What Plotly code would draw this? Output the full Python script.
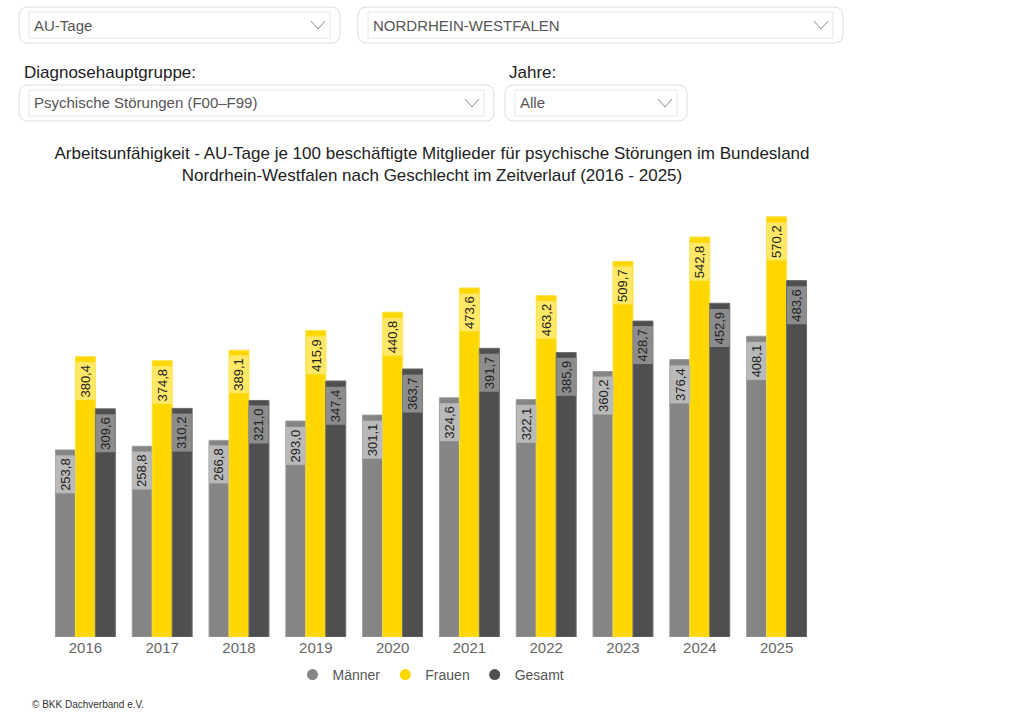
import plotly.graph_objects as go

years = ["2016", "2017", "2018", "2019", "2020", "2021", "2022", "2023", "2024", "2025"]
maenner = [253.8, 258.8, 266.8, 293.0, 301.1, 324.6, 322.1, 360.2, 376.4, 408.1]
frauen = [380.4, 374.8, 389.1, 415.9, 440.8, 473.6, 463.2, 509.7, 542.8, 570.2]
gesamt = [309.6, 310.2, 321.0, 347.4, 363.7, 391.7, 385.9, 428.7, 452.9, 483.6]
series_names = ["Männer", "Frauen", "Gesamt"]

title_text = ("Arbeitsunfähigkeit - AU-Tage je 100 beschäftigte Mitglieder für psychische Störungen im Bundesland"
              "<br>Nordrhein-Westfalen nach Geschlecht im Zeitverlauf (2016 - 2025)")

FIG_W, FIG_H = 1024, 723
L, R, T, B = 47, 209, 200, 86
W = FIG_W - L - R
H = FIG_H - T - B
FONT = "Liberation Sans, Arial, sans-serif"


def px(x):
    return (x - L) / W


def py(y):
    return (T + H - y) / H


def rrect(x0, y0, x1, y1, r):
    return (f"M {px(x0 + r)},{py(y0)} L {px(x1 - r)},{py(y0)} "
            f"Q {px(x1)},{py(y0)} {px(x1)},{py(y0 + r)} L {px(x1)},{py(y1 - r)} "
            f"Q {px(x1)},{py(y1)} {px(x1 - r)},{py(y1)} L {px(x0 + r)},{py(y1)} "
            f"Q {px(x0)},{py(y1)} {px(x0)},{py(y1 - r)} L {px(x0)},{py(y0 + r)} "
            f"Q {px(x0)},{py(y0)} {px(x0 + r)},{py(y0)} Z")


colors = ["#858585", "#ffd700", "#4f4f4f"]
line_colors = ["#9a9a9a", "#ffe040", "#6a6a6a"]
label_bg = ["#b9b9b9", "#ffe866", "#8c8c8c"]
data = [maenner, frauen, gesamt]

fig = go.Figure()
for name, vals, c, lc in zip(series_names, data, colors, line_colors):
    fig.add_trace(go.Bar(x=years, y=vals, name=name, marker=dict(color=c, line=dict(color=lc, width=1)),
                         showlegend=False, hoverinfo="x+y+name"))
for name, c in zip(series_names, colors):
    fig.add_trace(go.Scatter(x=[years[0]], y=[None], mode="markers", name=name,
                             marker=dict(color=c, size=11, symbol="circle"), hoverinfo="skip"))

annotations = []
shifts = [-20, 0, 20]
for vals, bg, sh in zip(data, label_bg, shifts):
    for i, v in enumerate(vals):
        annotations.append(dict(
            x=i, y=v, xref="x", yref="y", xshift=sh, yshift=-5,
            text=f"{v:.1f}".replace(".", ","), textangle=-90, showarrow=False,
            xanchor="center", yanchor="top", bgcolor=bg, borderpad=2,
            font=dict(family=FONT, size=13, color="#222222")))

shapes = []
boxes = [
    (19, 7, 340, 43, "AU-Tage", 15),
    (358, 7, 843, 43, "NORDRHEIN-WESTFALEN", 15),
    (19, 85, 494, 121, "Psychische Störungen (F00–F99)", 15),
    (505, 85, 687, 121, "Alle", 15),
]
for x0, y0, x1, y1, txt, fs in boxes:
    shapes.append(dict(type="path", path=rrect(x0, y0, x1, y1, 9), xref="paper", yref="paper",
                       line=dict(color="#dcdcdc", width=1), fillcolor="white", layer="above"))
    shapes.append(dict(type="rect", x0=px(x0 + 10), x1=px(x1 - 10), y0=py(y0 + 5), y1=py(y1 - 5),
                       xref="paper", yref="paper", line=dict(color="#e6e6e6", width=1), layer="above"))
    cx = x1 - 22
    cy = (y0 + y1) / 2
    shapes.append(dict(type="path", xref="paper", yref="paper", layer="above",
                       path=f"M {px(cx - 7)},{py(cy - 4)} L {px(cx)},{py(cy + 4)} L {px(cx + 7)},{py(cy - 4)}",
                       line=dict(color="#8a8a8a", width=1)))
    annotations.append(dict(x=px(x0 + 13), y=py((y0 + y1) / 2), xref="paper", yref="paper", text=txt,
                            showarrow=False, xanchor="left", yanchor="middle",
                            font=dict(family=FONT, size=fs, color="#555555")))

annotations.append(dict(x=px(22), y=py(72), xref="paper", yref="paper", text="Diagnosehauptgruppe:",
                        showarrow=False, xanchor="left", yanchor="middle",
                        font=dict(family=FONT, size=17, color="#222222")))
annotations.append(dict(x=px(507), y=py(72), xref="paper", yref="paper", text="Jahre:",
                        showarrow=False, xanchor="left", yanchor="middle",
                        font=dict(family=FONT, size=17, color="#222222")))
annotations.append(dict(x=px(30), y=py(704), xref="paper", yref="paper", text="© BKK Dachverband e.V.",
                        showarrow=False, xanchor="left", yanchor="middle",
                        font=dict(family=FONT, size=10, color="#333333")))

fig.update_layout(
    width=FIG_W, height=FIG_H,
    margin=dict(l=L, r=R, t=T, b=B),
    paper_bgcolor="white", plot_bgcolor="white",
    barmode="group", bargap=0.22, bargroupgap=0,
    font=dict(family=FONT, color="#555555"),
    title=dict(text=title_text, x=px(432), xref="paper", xanchor="center",
               y=1 - 159 / FIG_H, yref="container", yanchor="middle",
               font=dict(family=FONT, size=17, color="#222222")),
    xaxis=dict(type="category", categoryorder="array", categoryarray=years,
               range=[-0.5, len(years) - 0.5],
               showgrid=False, showline=False, zeroline=False, ticks="",
               tickfont=dict(size=15, color="#666666")),
    yaxis=dict(range=[0, 593], visible=False, showgrid=False, zeroline=False),
    legend=dict(orientation="h", x=0.5, xanchor="center", y=py(675), yanchor="middle",
                font=dict(size=14, color="#555555"), itemwidth=30, tracegroupgap=0,
                bgcolor="rgba(0,0,0,0)"),
    shapes=shapes,
    annotations=annotations,
)

fig.write_html("out.html", config={"displayModeBar": False},
               post_script="document.body.style.margin='0';")
